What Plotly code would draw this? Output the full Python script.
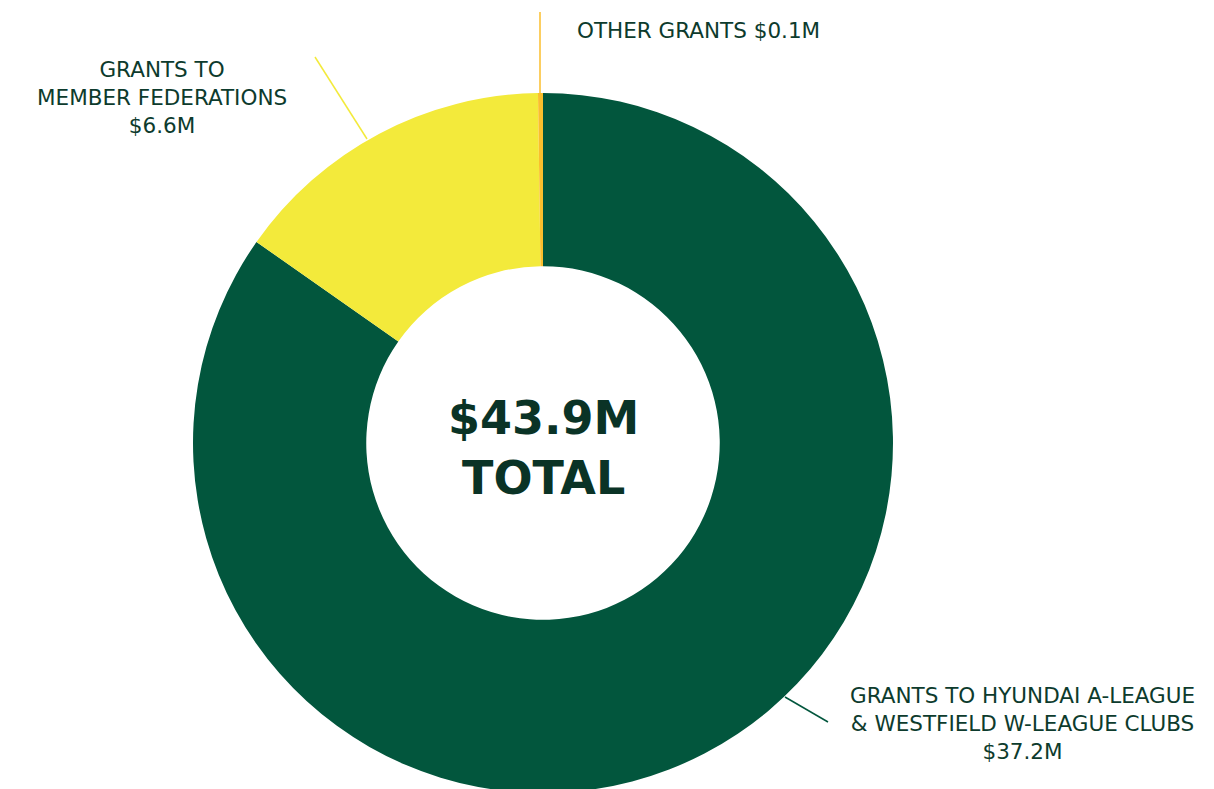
import plotly.graph_objects as go

# grants breakdown, $M
labels = ['GRANTS TO HYUNDAI A-LEAGUE<br>& WESTFIELD W-LEAGUE CLUBS',
          'GRANTS TO<br>MEMBER FEDERATIONS',
          'OTHER GRANTS']
values = [37.2, 6.6, 0.1]
colors = ['#02563D', '#F3EA3B', '#FBBE2D']
total = 43.9

W, H = 1214, 789
OFF = 8  # page body margin pushes the figure 8px right/down
text_col = '#0D3B2D'
font = 'DejaVu Sans'

def px(x, y):
    # screen pixel -> paper coords
    return (x - OFF) / W, 1 - (y - OFF) / H

fig = go.Figure()
fig.add_trace(go.Pie(labels=labels, values=values, hole=0.505, sort=False,
                     direction='clockwise', rotation=0,
                     marker=dict(colors=colors, line=dict(width=0)),
                     textinfo='none', showlegend=False,
                     domain=dict(x=[0, 2 * (543 - OFF) / W],
                                 y=[1 - (793 - OFF) / H, 1 - (93 - OFF) / H])))

# leader lines
leaders = [((785, 697), (828, 722), colors[0]),
           ((367, 139), (315, 57), colors[1]),
           ((540, 95), (540, 12), colors[2])]
for (x0, y0), (x1, y1), c in leaders:
    a, b = px(x0, y0)
    cx, d = px(x1, y1)
    fig.add_shape(type='line', xref='paper', yref='paper', x0=a, y0=b, x1=cx, y1=d,
                  line=dict(color=c, width=1.5))

# outside labels
lab_pos = [(1022, 723, 'center'), (162, 97, 'center'), (575, 30, 'left')]
for lab, v, (x, y, al) in zip(labels, values, lab_pos):
    if al == 'left':
        txt = f'{lab} ${v}M'
        xa = 'left'
    else:
        txt = f'{lab}<br>${v}M'
        xa = 'center'
    ax, ay = px(x, y)
    fig.add_annotation(x=ax, y=ay, xref='paper', yref='paper', text=txt, showarrow=False,
                       xanchor=xa, yanchor='middle', align='center',
                       font=dict(family=font, size=21.5, color=text_col))

# centre total
cx, cy = px(543, 448)
fig.add_annotation(x=cx, y=cy, xref='paper', yref='paper',
                   text=f'<b>${total}M</b><br><b>TOTAL</b>', showarrow=False,
                   xanchor='center', yanchor='middle', align='center',
                   font=dict(family=font, size=46, color='#0A3326'))

fig.update_layout(width=W, height=H, margin=dict(l=0, r=0, t=0, b=0),
                  paper_bgcolor='white', plot_bgcolor='white')
fig.write_html("out.html")
